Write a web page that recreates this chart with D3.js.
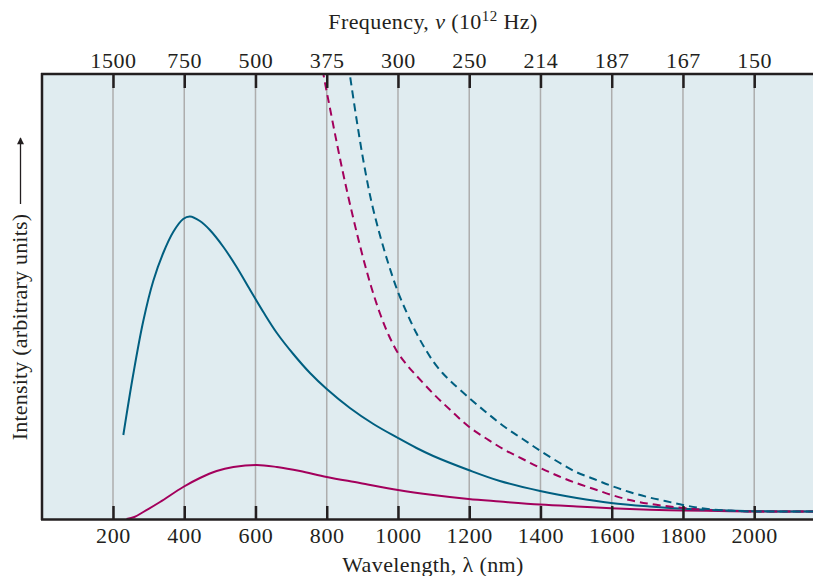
<!DOCTYPE html>
<html>
<head>
<meta charset="utf-8">
<script src="https://cdn.jsdelivr.net/npm/d3@7"></script>
<style>
  html, body { margin: 0; padding: 0; background: #fff; }
  svg { display: block; }
  text { font-family: "Liberation Serif", "DejaVu Serif", serif; fill: #231f20; }
</style>
</head>
<body>
<svg id="chart" width="813" height="576"></svg>
<script>
// ---- data (intensity in arbitrary units) ----
const wavelengthTicks = [200, 400, 600, 800, 1000, 1200, 1400, 1600, 1800, 2000];
const frequencyLabels = ["1500", "750", "500", "375", "300", "250", "214", "187", "167", "150"];

// hot body, measured (blue solid)
const blueSolidX = [229, 257, 285, 313, 341, 369, 397, 416, 444, 472, 510, 547, 585, 622, 660, 706, 753, 800, 865, 931, 1000, 1052, 1099, 1198, 1286, 1399, 1502, 1598, 1707, 1800, 1900, 2000, 2170];
const blueSolidY = [84, 145, 198, 238, 266, 287, 300, 302.5, 298, 289, 272, 252, 229, 207, 186, 165, 146, 130, 111, 95, 81, 71, 63, 49, 38, 28, 21, 16, 12.5, 10.3, 8.7, 7.8, 7.5];

// cooler body, measured (magenta solid)
const magentaSolidX = [238, 260, 285, 332, 397, 444, 491, 538, 603, 660, 725, 800, 893, 1000, 1099, 1198, 1286, 1399, 1502, 1598, 1707, 1800, 1900, 2000, 2170];
const magentaSolidY = [0, 2, 7, 17, 32, 41, 48, 52, 54, 52, 48, 42, 36, 29, 24, 20, 17.5, 14.5, 12.5, 10.8, 9.3, 8.5, 8, 7.5, 7.5];

// classical prediction, hot body (blue dashed)
const blueDashedX = [850, 865, 884, 903, 925, 950, 975, 1000, 1025, 1050, 1075, 1100, 1125, 1150, 1200, 1250, 1300, 1350, 1400, 1450, 1500, 1550, 1600, 1650, 1700, 1750, 1800, 1850, 1900, 1950, 2000, 2170];
const blueDashedY = [480, 444, 399, 358, 318, 283, 253, 227, 206, 187, 171, 157, 146, 137, 121, 106, 92, 80, 68, 57, 47, 40, 33, 27, 22, 18, 14, 11, 9, 8, 7.5, 7.5];

// classical prediction, cooler body (magenta dashed)
const magentaDashedX = [770, 790, 810, 830, 850, 875, 900, 925, 950, 975, 1000, 1025, 1050, 1100, 1150, 1200, 1250, 1300, 1350, 1400, 1450, 1500, 1550, 1600, 1650, 1700, 1750, 1800, 1850, 1900, 1950, 2000, 2170];
const magentaDashedY = [488, 446, 409, 373, 339, 300, 264, 232, 205, 183, 166, 154, 144, 125, 108, 92, 80, 69, 60, 51, 43, 36, 30, 24, 19, 15.5, 13, 11, 9.5, 8.5, 8, 7.5, 7.5];

// ---- layout ----
const svg = d3.select("#chart");
const plotL = 42, plotR = 813, plotT = 74, plotB = 519;

const x = d3.scaleLinear().domain([0, 2165]).range([41.75, 813]);
const y = d3.scaleLinear().domain([0, 446]).range([plotB, plotT - 1]);

const blue = "#005f80";
const magenta = "#a3005c";
const ink = "#231f20";
const fontSize = 22;

// background
svg.append("rect")
  .attr("x", plotL).attr("y", plotT)
  .attr("width", plotR - plotL).attr("height", plotB - plotT)
  .attr("fill", "#e0ecf0");

// clip
svg.append("clipPath").attr("id", "plotclip")
  .append("rect").attr("x", plotL).attr("y", plotT)
  .attr("width", plotR - plotL).attr("height", plotB - plotT);

// grid
svg.append("g").selectAll("line").data(wavelengthTicks).join("line")
  .attr("x1", d => x(d)).attr("x2", d => x(d))
  .attr("y1", plotT).attr("y2", plotB)
  .attr("stroke", "#adadad").attr("stroke-width", 1.5);

// curves
const curves = [
  { xs: magentaSolidX, ys: magentaSolidY, color: magenta, dash: null },
  { xs: blueSolidX, ys: blueSolidY, color: blue, dash: null },
  { xs: magentaDashedX, ys: magentaDashedY, color: magenta, dash: "8,5" },
  { xs: blueDashedX, ys: blueDashedY, color: blue, dash: "8,5" }
];
const line = d3.line().x(d => x(d[0])).y(d => y(d[1])).curve(d3.curveCatmullRom.alpha(0.5));
const cg = svg.append("g").attr("clip-path", "url(#plotclip)");
curves.forEach(c => {
  cg.append("path")
    .datum(c.xs.map((v, i) => [v, c.ys[i]]))
    .attr("d", line)
    .attr("fill", "none")
    .attr("stroke", c.color)
    .attr("stroke-width", 2)
    .attr("stroke-linecap", "butt")
    .attr("stroke-dasharray", c.dash);
});

// axes
const axisBottom = d3.axisBottom(x).tickValues(wavelengthTicks)
  .tickSizeInner(-13).tickSizeOuter(0).tickPadding(8).tickFormat(d3.format("d"));
const gb = svg.append("g").attr("transform", `translate(0,${plotB})`).call(axisBottom);

const axisTop = d3.axisTop(x).tickValues(wavelengthTicks)
  .tickSizeInner(-14).tickSizeOuter(0).tickPadding(6)
  .tickFormat((d, i) => frequencyLabels[i]);
const gt = svg.append("g").attr("transform", `translate(0,${plotT})`).call(axisTop);

const axisLeft = d3.axisLeft(y).tickValues([]).tickSizeOuter(0);
const gl = svg.append("g").attr("transform", `translate(${plotL},0)`).call(axisLeft);

[gb, gt, gl].forEach(g => {
  g.select(".domain").attr("stroke", ink).attr("stroke-width", 2.5);
  g.selectAll(".tick line").attr("stroke", ink).attr("stroke-width", 2.5);
  g.selectAll(".tick text")
    .attr("font-family", "Liberation Serif, DejaVu Serif, serif")
    .attr("font-size", fontSize).attr("letter-spacing", 0.6).attr("fill", ink);
});
gb.select(".domain").attr("d", `M${plotL - 1},0.5H${plotR}`);
gt.select(".domain").attr("d", `M${plotL - 1},0H${plotR}`);
gl.select(".domain").attr("d", `M0,${plotT - 1}V${plotB + 1}`);

// titles
const topTitle = svg.append("text")
  .attr("x", 433).attr("y", 29).attr("text-anchor", "middle")
  .attr("font-size", fontSize).attr("letter-spacing", 0.4);
topTitle.append("tspan").text("Frequency, ");
topTitle.append("tspan").attr("font-style", "italic").text("ν");
topTitle.append("tspan").text(" (10");
topTitle.append("tspan").attr("font-size", 15).attr("dy", -8).text("12");
topTitle.append("tspan").attr("dy", 8).text(" Hz)");

svg.append("text")
  .attr("x", 433).attr("y", 572).attr("text-anchor", "middle")
  .attr("font-size", fontSize).attr("letter-spacing", 0.4)
  .text("Wavelength, λ (nm)");

// y label with arrow
svg.append("text")
  .attr("transform", "translate(27,327) rotate(-90)")
  .attr("text-anchor", "middle")
  .attr("font-size", fontSize).attr("letter-spacing", 0.2)
  .text("Intensity (arbitrary units)");

svg.append("defs").append("marker")
  .attr("id", "arrowhead").attr("viewBox", "0 0 10 10")
  .attr("refX", 9).attr("refY", 5)
  .attr("markerWidth", 8).attr("markerHeight", 7)
  .attr("markerUnits", "userSpaceOnUse")
  .attr("orient", "auto")
  .append("path").attr("d", "M0,0L10,5L0,10z").attr("fill", ink);

svg.append("line")
  .attr("x1", 20.5).attr("x2", 20.5)
  .attr("y1", 204).attr("y2", 138)
  .attr("stroke", ink).attr("stroke-width", 1.3)
  .attr("marker-end", "url(#arrowhead)");
</script>
</body>
</html>
